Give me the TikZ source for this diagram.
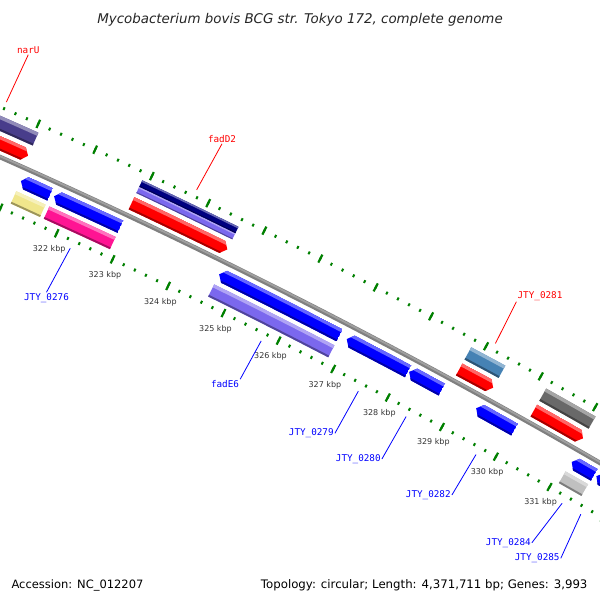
\documentclass[tikz,border=0pt]{standalone}
\usepackage{fontspec}
\setmainfont{DejaVu Sans}
\setmonofont{DejaVu Sans Mono}
\usepackage{tikz}
\usetikzlibrary{calc}

\definecolor{tickgreen}{RGB}{0,128,0}
\definecolor{cogslate}{RGB}{72,61,139}
\definecolor{cognavy}{RGB}{0,0,128}
\definecolor{cogpurple}{RGB}{123,104,238}
\definecolor{cogsteel}{RGB}{70,130,180}
\definecolor{coggray}{RGB}{105,105,105}
\definecolor{cogsilver}{RGB}{192,192,192}
\definecolor{cogkhaki}{RGB}{240,230,140}
\definecolor{cogpink}{RGB}{255,20,147}

\tikzstyle{backbone}=[draw=gray,line width=4.6pt]
\tikzstyle{minortick}=[draw=tickgreen,line width=2pt]
\tikzstyle{majortick}=[draw=tickgreen,line width=2.2pt]
\tikzstyle{kbp}=[font=\fontsize{8}{9}\selectfont,text=black!80,inner sep=0pt]
\tikzstyle{genelabel}=[font=\ttfamily\fontsize{9.3}{10}\selectfont,inner sep=1pt]
\tikzstyle{leader}=[draw,line width=0.8pt]

% map position (kbp) -> angle round the centre of the circle
\newcommand{\kang}[1]{65.30-0.5644*(#1-322)}
% piece of a ring
\newcommand{\ringpart}[4]{(#1:#3) arc[start angle=#1,end angle=#2,radius=#3] -- (#2:#4) arc[start angle=#2,end angle=#1,radius=#4] -- cycle}
% feature as a shaded bar: from, to, inner radius, outer radius, colour
\newcommand{\genebar}[5]{%
  \pgfmathsetmacro\angA{\kang{#1}}%
  \pgfmathsetmacro\angB{\kang{#2}}%
  \pgfmathsetmacro\radL{#3+0.14*(#4-#3)}%
  \pgfmathsetmacro\radH{#4-0.24*(#4-#3)}%
  \fill[#5] \ringpart{\angA}{\angB}{#3}{#4};
  \fill[#5!65!black] \ringpart{\angA}{\angB}{#3}{\radL};
  \fill[#5!60!white] \ringpart{\angA}{\angB}{\radH}{#4};
}
% feature as a shaded arrow: tail, tip, inner radius, outer radius, colour
\newcommand{\genearrow}[5]{%
  \pgfmathsetmacro\angA{\kang{#1}}%
  \pgfmathsetmacro\angB{\kang{#2}}%
  \pgfmathsetmacro\angH{\angB+0.05*sign(\angA-\angB)}%
  \pgfmathsetmacro\radM{(#3+#4)/2}%
  \pgfmathsetmacro\radL{#3+0.14*(#4-#3)}%
  \pgfmathsetmacro\radH{#4-0.24*(#4-#3)}%
  \begin{scope}
    \clip (\angA:#3) arc[start angle=\angA,end angle=\angH,radius=#3] -- (\angB:\radM)
      -- (\angH:#4) arc[start angle=\angH,end angle=\angA,radius=#4] -- cycle;
    \fill[#5] \ringpart{\angA}{\angB}{#3}{#4};
    \fill[#5!65!black] \ringpart{\angA}{\angB}{#3}{\radL};
    \fill[#5!60!white] \ringpart{\angA}{\angB}{\radH}{#4};
  \end{scope}
}

\begin{document}
\begin{tikzpicture}[x=1pt,y=1pt]
  \useasboundingbox (0,0) rectangle (600,-600);
  \fill[white] (0,0) rectangle (600,-600);
  \clip (0,0) rectangle (600,-600);

  \node[font=\itshape\fontsize{13.4}{16}\selectfont,text=black!85,anchor=base] (title) at (300,-23)
    {Mycobacterium bovis BCG str. Tokyo 172, complete genome};

  % the map, round its (far away) centre
  \begin{scope}[shift={(-2556,-5914)}]
    % ticks
    \foreach \n in {1598,...,1666}{
      \pgfmathsetmacro\ta{\kang{\n/5}}
      \draw[minortick] (\ta:6343.5) -- (\ta:6346.5);
      \draw[minortick] (\ta:6251.5) -- (\ta:6254.5);
    }
    \foreach \k in {320,...,333}{
      \pgfmathsetmacro\ta{\kang{\k}}
      \draw[majortick] (\ta:6340.5) -- (\ta:6349.5);
      \draw[majortick] (\ta:6248.5) -- (\ta:6257.5);
    }
    \foreach \k in {322,...,331}{
      \pgfmathsetmacro\ta{\kang{\k}}
      \node[kbp] (k\k) at (\ta:6235) {\k\ kbp};
    }

    % backbone
    \pgfmathsetmacro\angA{\kang{319}}
    \pgfmathsetmacro\angB{\kang{333}}
    \draw[backbone] (\angA:6299) arc[start angle=\angA,end angle=\angB,radius=6299];
    \draw[gray!75,line width=1.8pt] (\angA:6299.8) arc[start angle=\angA,end angle=\angB,radius=6299.8];

    % forward strand, outer ring
    \genebar{319.7}{321.06}{6323}{6337}{cogslate}
    \genebar{322.89}{324.6}{6323}{6330}{cogpurple}
    \genebar{322.89}{324.6}{6330}{6337}{cognavy}
    \genebar{328.80}{329.42}{6323}{6337}{cogsteel}
    \genebar{330.17}{331.08}{6323}{6337}{coggray}
    % forward strand, CDS
    \genearrow{319.7}{321.06}{6305}{6318.5}{red}
    \genearrow{322.89}{324.6}{6305}{6318.5}{red}
    \genearrow{328.80}{329.42}{6305}{6318.5}{red}
    \genearrow{330.17}{331.08}{6305}{6318.5}{red}
    % reverse strand, CDS
    \genearrow{321.64}{321.12}{6279}{6292.5}{blue}
    \genearrow{322.89}{321.71}{6279}{6292.5}{blue}
    \genearrow{326.84}{324.66}{6279}{6292.5}{blue}
    \genearrow{328.09}{326.97}{6279}{6292.5}{blue}
    \genearrow{328.71}{328.11}{6279}{6292.5}{blue}
    \genearrow{330.05}{329.34}{6279}{6292.5}{blue}
    \genearrow{331.53}{331.11}{6279}{6292.5}{blue}
    \genearrow{331.80}{331.57}{6279}{6292.5}{blue}
    % reverse strand, inner ring
    \genebar{321.12}{321.64}{6261}{6274.5}{cogkhaki}
    \genebar{321.71}{322.89}{6261}{6274.5}{cogpink}
    \genebar{324.66}{326.84}{6261}{6274.5}{cogpurple}
    \genebar{331.10}{331.52}{6261}{6274.5}{cogsilver}

    % where the labels point
    \coordinate (gnarU) at ({\kang{320.39}}:6352);
    \coordinate (gfadD2) at ({\kang{323.74}}:6352);
    \coordinate (g0281) at ({\kang{329.11}}:6352);
    \coordinate (g0276) at ({\kang{322.30}}:6245);
    \coordinate (gfadE6) at ({\kang{325.75}}:6245);
    \coordinate (g0279) at ({\kang{327.53}}:6245);
    \coordinate (g0280) at ({\kang{328.41}}:6245);
    \coordinate (g0282) at ({\kang{329.70}}:6245);
    \coordinate (g0284) at ({\kang{331.31}}:6245);
    \coordinate (g0285) at ({\kang{331.66}}:6245);
  \end{scope}

  % gene labels
  \node[genelabel,text=red] (narU) at (28.3,-50) {narU};
  \node[genelabel,text=red] (fadD2) at (222,-139) {fadD2};
  \node[genelabel,text=red] (l0281) at (540,-296) {JTY\_0281};
  \node[genelabel,text=blue] (l0276) at (46.5,-298) {JTY\_0276};
  \node[genelabel,text=blue] (fadE6) at (225,-384) {fadE6};
  \node[genelabel,text=blue] (l0279) at (311.3,-433.3) {JTY\_0279};
  \node[genelabel,text=blue] (l0280) at (358.3,-459) {JTY\_0280};
  \node[genelabel,text=blue] (l0282) at (428.3,-495) {JTY\_0282};
  \node[genelabel,text=blue] (l0284) at (508.3,-542.7) {JTY\_0284};
  \node[genelabel,text=blue] (l0285) at (537.2,-558.3) {JTY\_0285};

  \draw[leader,red] (gnarU) -- (narU.south);
  \draw[leader,red] (gfadD2) -- (fadD2.south);
  \draw[leader,red] (g0281) -- (l0281.south west);
  \draw[leader,blue] (g0276) -- (l0276.north);
  \draw[leader,blue] (gfadE6) -- (fadE6.north east);
  \draw[leader,blue] (g0279) -- (l0279.east);
  \draw[leader,blue] (g0280) -- (l0280.east);
  \draw[leader,blue] (g0282) -- (l0282.east);
  \draw[leader,blue] (g0284) -- (l0284.east);
  \draw[leader,blue] (g0285) -- (l0285.east);

  \node[font=\fontsize{11.5}{14}\selectfont,anchor=base west] (acc) at (8,-588) {Accession: NC\_012207};
  \node[font=\fontsize{11.75}{14}\selectfont,anchor=base east] (topo) at (591,-588)
    {Topology: circular; Length: 4,371,711 bp; Genes: 3,993};
\end{tikzpicture}
\end{document}
